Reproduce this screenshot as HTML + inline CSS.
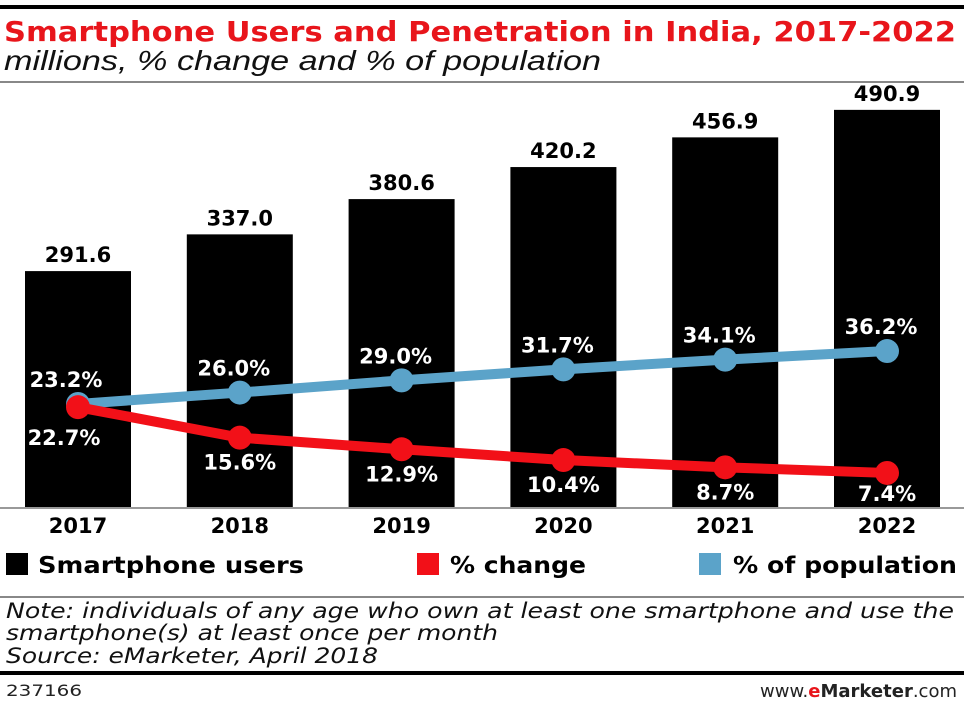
<!DOCTYPE html>
<html><head><meta charset="utf-8"><style>
body{margin:0;background:#fff;width:964px;height:704px;overflow:hidden;font-family:"Liberation Sans",sans-serif}
svg{display:block}
.w{font-family:"DejaVu Sans","Liberation Sans",sans-serif}
</style></head><body>
<svg id="chart" width="964" height="704">
<rect x="0" y="5" width="964" height="4" fill="#000"/>
<text class="w" x="4" y="41" font-size="28" font-weight="bold" fill="#e8151b" lengthAdjust="spacingAndGlyphs" textLength="952">Smartphone Users and Penetration in India, 2017-2022</text>
<text x="4" y="70" font-size="28" font-style="italic" fill="#111" lengthAdjust="spacingAndGlyphs" textLength="597">millions, % change and % of population</text>
<rect x="0" y="81" width="964" height="2" fill="#888"/>
<g id="bars"></g>
<rect x="0" y="507" width="964" height="2" fill="#999"/>
<g id="lines"></g>
<g id="labels"></g>
<g class="w">
<rect x="6" y="553" width="22" height="22" fill="#000"/>
<text x="38" y="573" font-size="23" font-weight="bold" lengthAdjust="spacingAndGlyphs" textLength="266">Smartphone users</text>
<rect x="417" y="553" width="22" height="22" fill="#f21018"/>
<text x="450" y="573" font-size="23" font-weight="bold" lengthAdjust="spacingAndGlyphs" textLength="136">% change</text>
<rect x="699" y="553" width="22" height="22" fill="#5ba3c9"/>
<text x="733" y="573" font-size="23" font-weight="bold" lengthAdjust="spacingAndGlyphs" textLength="224">% of population</text>
</g>
<rect x="0" y="596" width="964" height="2" fill="#888"/>
<g class="w" font-size="21" font-style="italic" fill="#111">
<text x="6" y="618" lengthAdjust="spacingAndGlyphs" textLength="948">Note: individuals of any age who own at least one smartphone and use the</text>
<text x="6" y="640" lengthAdjust="spacingAndGlyphs" textLength="492">smartphone(s) at least once per month</text>
<text x="6" y="663" lengthAdjust="spacingAndGlyphs" textLength="372">Source: eMarketer, April 2018</text>
</g>
<rect x="0" y="671" width="964" height="4" fill="#000"/>
<text class="w" x="6" y="696" font-size="16" fill="#222" lengthAdjust="spacingAndGlyphs" textLength="76">237166</text>
<text class="w" x="957" y="697" font-size="18" text-anchor="end" fill="#222">www.<tspan fill="#e8151b" font-weight="bold">e</tspan><tspan font-weight="bold">Marketer</tspan>.com</text>
</svg>
<script>
const years=["2017","2018","2019","2020","2021","2022"];
const users=[291.6,337.0,380.6,420.2,456.9,490.9];
const change=[22.7,15.6,12.9,10.4,8.7,7.4];
const population=[23.2,26.0,29.0,31.7,34.1,36.2];
const NS="http://www.w3.org/2000/svg";
const base=507;
function xc(i){return 78+i*161.8;}
function yBar(v){return base-v*0.809;}
function yPop(v){return 406-(v-22.7)*4.07;}
function yChg(v){return 405+(23.2-v)*4.3;}
function mk(tag,attrs,parent){const e=document.createElementNS(NS,tag);for(const k in attrs)e.setAttribute(k,attrs[k]);parent.appendChild(e);return e;}
const gb=document.getElementById('bars'),gl=document.getElementById('lines'),gt=document.getElementById('labels');
years.forEach((y,i)=>{
 const r=mk('rect',{x:xc(i)-53,y:yBar(users[i]),width:106,height:base-yBar(users[i]),fill:'#000'},gb);
 
 
 const t=mk('text',{class:'w',x:xc(i),y:yBar(users[i])-9,'font-size':21,'font-weight':'bold','text-anchor':'middle'},gt);
 t.textContent=users[i].toFixed(1);
 
 
 const a=mk('text',{class:'w',x:xc(i),y:533,'font-size':21,'font-weight':'bold','text-anchor':'middle'},gt);
 a.textContent=y;
 
 
});
function line(vals,fy,color,name){
 const p=mk('polyline',{points:vals.map((v,i)=>xc(i)+','+fy(v)).join(' '),fill:'none',stroke:color,'stroke-width':10},gl);
 
 
 vals.forEach((v,i)=>{
  const c=mk('circle',{cx:xc(i),cy:fy(v),r:12,fill:color},gl);
  
  
 });
}
line(population,yPop,'#5ba3c9','population');
line(change,yChg,'#f21018','change');
years.forEach((y,i)=>{
 const t=mk('text',{class:'w',x:xc(i)-6,y:yPop(population[i])-17,'font-size':21,'font-weight':'bold','text-anchor':'middle',fill:'#fff'},gt);
 if(i==0){t.setAttribute('x',xc(i)-12);t.setAttribute('y',387);}
 t.textContent=population[i].toFixed(1)+'%';
 
 
 const u=mk('text',{class:'w',x:xc(i),y:Math.min(yChg(change[i])+32,501),'font-size':21,'font-weight':'bold','text-anchor':'middle',fill:'#fff'},gt);
 if(i==0){u.setAttribute('x',xc(i)-14);u.setAttribute('y',445);}
 u.textContent=change[i].toFixed(1)+'%';
 
 
});
</script>
</body></html>
